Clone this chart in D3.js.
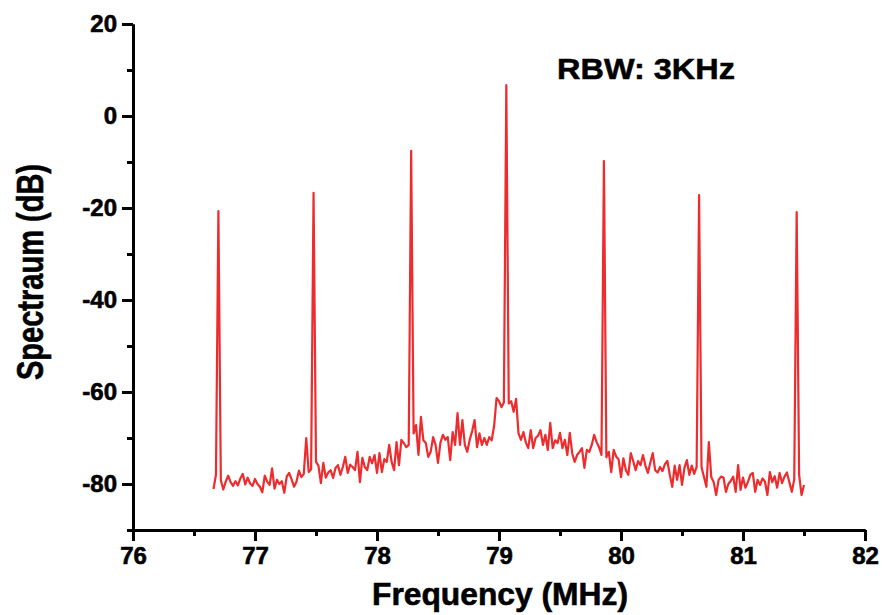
<!DOCTYPE html>
<html>
<head>
<meta charset="utf-8">
<script src="https://cdn.jsdelivr.net/npm/d3@7"></script>
<style>
  html, body { margin: 0; padding: 0; background: #fff; }
  svg { display: block; font-family: "Liberation Sans", Arial, sans-serif; }
</style>
</head>
<body>
<svg id="chart" width="883" height="615"></svg>
<script>
// Sweep settings of the analyser trace (MHz)
const freqStart = 76.66;
const freqStep = 0.02;

// Measured spectrum level (dB) for each sweep point
const spectrumDb = [
  -81.1, -78.0, -20.7, -79.2, -81.2, -79.5, -78.2, -79.6, -80.4, -79.4,
  -80.3, -78.8, -77.8, -80.1, -78.6, -79.9, -80.4, -78.9, -80.0, -80.6,
  -81.8, -78.2, -79.5, -80.2, -76.6, -81.0, -79.1, -80.0, -79.4, -81.9,
  -78.4, -77.6, -79.0, -80.6, -79.5, -77.1, -78.5, -77.8, -70.0, -77.4,
  -76.8, -16.7, -75.2, -76.0, -79.8, -75.4, -78.6, -77.5, -77.0, -78.7,
  -76.5, -75.9, -78.0, -76.3, -74.1, -77.6, -75.8, -76.3, -77.0, -73.0,
  -79.6, -74.3, -76.3, -77.0, -74.1, -75.5, -73.7, -77.6, -73.3, -77.4,
  -74.6, -75.2, -71.5, -75.2, -77.0, -70.9, -75.9, -70.4, -71.1, -72.0,
  -71.5, -7.6, -69.0, -67.2, -73.7, -65.4, -70.5, -71.1, -74.1, -73.0,
  -69.8, -71.5, -75.4, -71.0, -69.3, -70.4, -69.8, -74.8, -68.7, -71.5,
  -64.6, -71.5, -66.1, -71.5, -73.0, -70.4, -68.5, -66.1, -72.0, -69.0,
  -71.5, -70.0, -71.5, -69.8, -70.5, -67.4, -61.3, -62.0, -63.3, -62.3,
  6.7, -62.5, -62.0, -64.3, -61.5, -69.0, -70.4, -68.7, -71.0, -72.2,
  -68.3, -72.2, -70.0, -69.5, -68.3, -71.5, -69.3, -72.6, -66.7, -72.2,
  -70.5, -71.1, -68.9, -72.2, -70.4, -73.7, -68.9, -73.3, -75.2, -73.7,
  -73.0, -72.2, -76.5, -72.6, -73.0, -71.5, -69.3, -70.9, -72.0, -73.7,
  -9.8, -74.2, -73.0, -77.4, -72.6, -74.0, -74.6, -78.5, -74.4, -77.0,
  -78.0, -73.3, -75.0, -77.0, -75.0, -75.9, -73.7, -76.0, -77.6, -75.4,
  -73.3, -77.0, -77.5, -76.3, -77.2, -75.7, -75.0, -78.0, -80.6, -76.0,
  -79.1, -75.9, -80.2, -76.5, -74.8, -78.0, -76.0, -77.8, -76.3, -17.2,
  -76.3, -78.5, -80.6, -70.9, -78.5, -79.6, -82.4, -79.1, -78.4, -78.6,
  -81.7, -80.0, -79.3, -78.4, -81.7, -75.9, -81.3, -78.6, -80.8, -79.6,
  -78.0, -77.6, -81.7, -79.1, -80.2, -78.8, -79.5, -82.4, -77.4, -79.6,
  -78.3, -80.8, -77.6, -79.8, -78.4, -77.5, -79.6, -81.7, -79.0, -20.9,
  -78.0, -82.4, -80.2
];

// Axis ticks
const xMajorTicks = [76, 77, 78, 79, 80, 81, 82];
const xMinorTicks = [76.5, 77.5, 78.5, 79.5, 80.5, 81.5];
const yMajorTicks = [20, 0, -20, -40, -60, -80];
const yMinorTicks = [10, -10, -30, -50, -70, -90];

const xTitle = "Frequency (MHz)";
const yTitle = "Spectraum (dB)";
const note = "RBW: 3KHz";

const svg = d3.select("#chart");

const x = d3.scaleLinear().domain([76, 82]).range([133, 865]);
const y = d3.scaleLinear().domain([-90, 20]).range([530, 24]);

const points = spectrumDb.map((v, i) => ({ f: freqStart + i * freqStep, db: v }));

// Plain hyphen for negative labels
const fmt = d => String(d);

// Spectrum trace
svg.append("path")
  .datum(points)
  .attr("fill", "none")
  .attr("stroke", "#ee2b2d")
  .attr("stroke-width", 2.2)
  .attr("stroke-linejoin", "round")
  .attr("d", d3.line().x(d => x(d.f)).y(d => y(d.db)));

function styleAxis(g) {
  g.selectAll("path.domain").attr("stroke", "#000").attr("stroke-width", 3);
  g.selectAll(".tick line").attr("stroke", "#000").attr("stroke-width", 3);
  g.selectAll("text")
    .attr("fill", "#000")
    .attr("stroke", "#000")
    .attr("stroke-width", 0.6)
    .attr("font-size", 24)
    .attr("font-weight", "bold")
    .attr("font-family", "'Liberation Sans', Arial, sans-serif");
}

// Minor ticks (no labels)
svg.append("g")
  .attr("transform", `translate(0,${y(-90)})`)
  .call(d3.axisBottom(x).tickValues(xMinorTicks).tickSize(6).tickSizeOuter(0).tickFormat(""))
  .call(styleAxis);
svg.append("g")
  .attr("transform", `translate(${x(76)},0)`)
  .call(d3.axisLeft(y).tickValues(yMinorTicks).tickSize(6).tickSizeOuter(0).tickFormat(""))
  .call(styleAxis);

// Major ticks with labels
svg.append("g")
  .attr("transform", `translate(0,${y(-90)})`)
  .call(d3.axisBottom(x).tickValues(xMajorTicks).tickSize(11).tickSizeOuter(0).tickPadding(6).tickFormat(fmt))
  .call(styleAxis);
svg.append("g")
  .attr("transform", `translate(${x(76)},0)`)
  .call(d3.axisLeft(y).tickValues(yMajorTicks).tickSize(11).tickSizeOuter(0).tickPadding(5).tickFormat(fmt))
  .call(styleAxis);

// Axis titles
svg.append("text")
  .attr("x", 500)
  .attr("y", 605)
  .attr("text-anchor", "middle")
  .attr("font-size", 32)
  .attr("font-weight", "bold")
  .attr("stroke", "#000")
  .attr("stroke-width", 0.6)
  .attr("textLength", 256)
  .attr("lengthAdjust", "spacingAndGlyphs")
  .text(xTitle);

svg.append("text")
  .attr("transform", "translate(43,272) rotate(-90)")
  .attr("text-anchor", "middle")
  .attr("font-size", 36)
  .attr("font-weight", "bold")
  .attr("stroke", "#000")
  .attr("stroke-width", 0.6)
  .attr("textLength", 216)
  .attr("lengthAdjust", "spacingAndGlyphs")
  .text(yTitle);

// Resolution bandwidth note
svg.append("text")
  .attr("x", 557)
  .attr("y", 79)
  .attr("font-size", 30)
  .attr("font-weight", "bold")
  .attr("stroke", "#000")
  .attr("stroke-width", 0.5)
  .attr("textLength", 178)
  .attr("lengthAdjust", "spacingAndGlyphs")
  .text(note);
</script>
</body>
</html>
